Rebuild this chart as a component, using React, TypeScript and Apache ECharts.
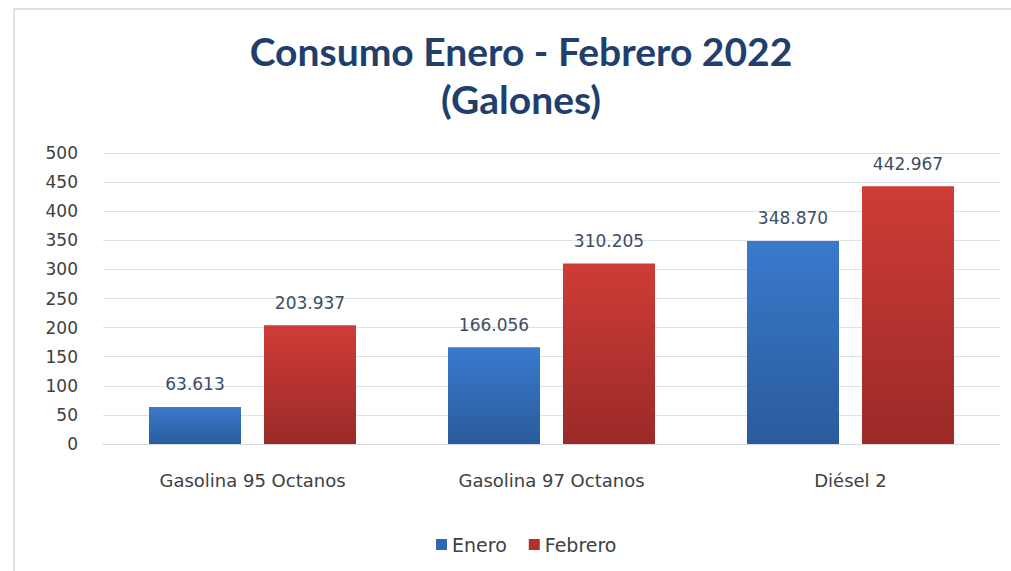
import React, { useEffect, useRef } from "react";
import * as echarts from "echarts";

const categories = ["Gasolina 95 Octanos", "Gasolina 97 Octanos", "Diésel 2"];
const enero = [63.613, 166.056, 348.87];
const febrero = [203.937, 310.205, 442.967];
const titleLines = ["Consumo Enero - Febrero 2022", "(Galones)"];

const fmt = (v: number) => v.toFixed(3);
const dv = "'DejaVu Sans', sans-serif";

export default function App() {
  const ref = useRef<HTMLDivElement>(null);
  useEffect(() => {
    if (!ref.current) return;
    const chart = echarts.init(ref.current, undefined, { renderer: "svg" });
    const grad = (top: string, bottom: string) =>
      new echarts.graphic.LinearGradient(0, 0, 0, 1, [
        { offset: 0, color: top },
        { offset: 1, color: bottom },
      ]);
    chart.setOption({
      animation: false,
      backgroundColor: "#ffffff",
      textStyle: { fontFamily: dv },
      graphic: [
        {
          type: "polyline",
          shape: { points: [[14, 571], [14, 9], [1011, 9]] },
          style: { fill: "none", stroke: "#dce3ec", lineWidth: 2 },
          silent: true,
        },
        {
          type: "text",
          x: 521,
          y: 51,
          silent: true,
          style: {
            text: titleLines[0],
            align: "center",
            verticalAlign: "middle",
            font: "bold 39px Lato, 'Open Sans', sans-serif",
            fill: "#213f6c",
          },
        },
        {
          type: "text",
          x: 521,
          y: 99,
          silent: true,
          style: {
            text: titleLines[1],
            align: "center",
            verticalAlign: "middle",
            font: "bold 39px Lato, 'Open Sans', sans-serif",
            fill: "#213f6c",
          },
        },
      ],
      legend: {
        top: 530,
        left: 431,
        itemWidth: 11,
        itemHeight: 11,
        itemGap: 22,
        icon: "rect",
        textStyle: { fontSize: 19, color: "#404040", fontFamily: dv },
        data: [
          { name: "Enero", itemStyle: { color: "#2f67b3" } },
          { name: "Febrero", itemStyle: { color: "#b0302d" } },
        ],
      },
      grid: { left: 103, right: 11, top: 153, bottom: 127 },
      xAxis: {
        type: "category",
        data: categories,
        axisLine: { lineStyle: { color: "#d5d9de" } },
        axisTick: { show: false },
        axisLabel: { fontSize: 18, color: "#404040", margin: 27, fontFamily: dv },
      },
      yAxis: {
        type: "value",
        min: 0,
        max: 500,
        interval: 50,
        axisLine: { show: false },
        axisTick: { show: false },
        splitLine: { lineStyle: { color: "#dde2e8" } },
        axisLabel: { fontSize: 17, color: "#404040", margin: 25, fontFamily: dv },
      },
      series: [
        {
          name: "Enero",
          type: "bar",
          data: enero,
          barWidth: 92,
          barGap: "25%",
          itemStyle: { color: grad("#3a79cc", "#2a5b9c") },
          label: {
            show: true,
            position: "top",
            distance: 14,
            fontSize: 17,
            color: "#3d4d62",
            fontFamily: dv,
            formatter: (p: any) => fmt(p.value),
          },
        },
        {
          name: "Febrero",
          type: "bar",
          data: febrero,
          barWidth: 92,
          itemStyle: { color: grad("#cf3c37", "#9a2a28") },
          label: {
            show: true,
            position: "top",
            distance: 14,
            fontSize: 17,
            color: "#3d4d62",
            fontFamily: dv,
            formatter: (p: any) => fmt(p.value),
          },
        },
      ],
    });
    return () => chart.dispose();
  }, []);
  return (
    <div
      ref={ref}
      style={{ position: "absolute", left: 0, top: 0, width: 1011, height: 571 }}
    />
  );
}
